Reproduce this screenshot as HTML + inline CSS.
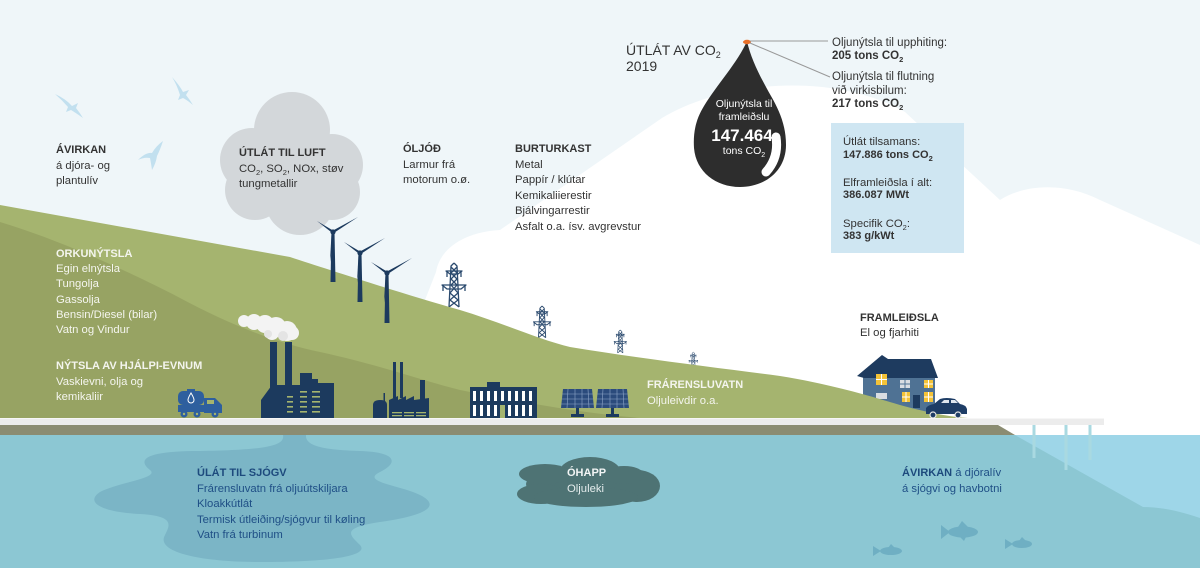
<!DOCTYPE html>
<html><head><meta charset="utf-8">
<style>
html,body{margin:0;padding:0;background:#eff6f9;}
svg{display:block;}
text{font-family:"Liberation Sans",sans-serif;}
.b{font-size:11.3px;}
.h{font-size:11px;font-weight:bold;}
.r{font-size:11.5px;}
.rb{font-size:11.5px;font-weight:bold;}
</style></head><body>
<svg width="1200" height="568" viewBox="0 0 1200 568" xmlns="http://www.w3.org/2000/svg">
<rect width="1200" height="568" fill="#eff6f9"/>

<!-- white mountain / clouds -->
<path d="M425,300 L436,272 C440,248 465,232 500,230 L662,118 C725,80 835,72 905,112 L1000,200 C1025,184 1065,182 1100,200 L1200,245 L1200,440 L425,440 Z" fill="#ffffff"/>

<!-- birds -->
<g fill="#c2e0ef">
<path d="M55,94 Q66,99 72,106 L78,103 L76,108 Q80,113 83,118 Q76,113 71,110 L66,112 L68,107 Q62,100 55,94 Z"/>
<path d="M172,77 Q180,86 183,92 L189,90 L186,95 Q190,100 193,105 Q187,100 183,98 L178,100 L180,95 Q177,85 172,77 Z"/>
<path d="M138,160 Q146,152 152,153 Q156,146 163,141 Q160,150 157,156 Q156,163 152,170 Q151,163 150,158 Q144,157 138,160 Z"/>
</g>

<!-- gray cloud -->
<g fill="#d3d7da">
<circle cx="292" cy="130" r="38"/>
<circle cx="252" cy="160" r="32"/>
<circle cx="332" cy="165" r="31"/>
<circle cx="255" cy="190" r="30"/>
<circle cx="300" cy="200" r="35"/>
<circle cx="332" cy="192" r="28"/>
<rect x="250" y="140" width="90" height="60"/>
</g>

<!-- pylons -->
<defs>
<g id="pyl" fill="none" stroke="#2b4a6e" stroke-width="1.3" stroke-linejoin="round">
<path d="M14,0 L11,3 L9,44 M14,0 L17,3 L19,44"/>
<path d="M6,8 L22,8 L18,11 L10,11 Z"/>
<path d="M2,22 L26,22 L21,26 L7,26 Z"/>
<path d="M11,4 L17,10 L11,16 L17,22 L10,30 L18,37 L9,44 M17,4 L11,10 L17,16 L11,22 L18,30 L10,37 L19,44"/>
<path d="M3,22 L3,28 M25,22 L25,28 M7,8 L7,14 M21,8 L21,14"/>
</g>
</defs>
<use href="#pyl" transform="translate(440,263)"/>
<use href="#pyl" transform="translate(532,306) scale(0.72)"/>
<use href="#pyl" transform="translate(613,330) scale(0.52)"/>
<use href="#pyl" transform="translate(688,352) scale(0.38)"/>

<!-- house (behind hill) -->
<g>
<rect x="863" y="376" width="72" height="38" fill="#4f7294"/>
<polygon points="857,376 882,355 888,359 931,359 938,378 864,378" fill="#1e3b5f"/>
<rect x="876" y="374" width="11" height="11" fill="#f4c338"/>
<path d="M881.5,374 V385 M876,379.5 H887" stroke="#fff" stroke-width="1"/>
<rect x="900" y="380" width="10" height="8" fill="#d9dde2"/>
<path d="M905,380 V388 M900,384 H910" stroke="#4f7294" stroke-width="1"/>
<rect x="924" y="380" width="9" height="8" fill="#f4c338"/>
<path d="M928.5,380 V388 M924,384 H933" stroke="#fff" stroke-width="1"/>
<rect x="902" y="392" width="8" height="10" fill="#f4c338"/>
<path d="M906,392 V402 M902,397 H910" stroke="#fff" stroke-width="1"/>
<rect x="913" y="395" width="7" height="13" fill="#1e3b5f"/>
<rect x="924" y="392" width="9" height="10" fill="#f4c338"/>
<path d="M928.5,392 V402 M924,397 H933" stroke="#fff" stroke-width="1"/>
<rect x="876" y="393" width="11" height="6" fill="#d9dde2"/>
</g>

<!-- green hills -->
<path d="M0,205 L290,257 C330,270 400,293 460,310 C500,322 540,340 570,347 C650,360 720,368 780,376 C830,384 870,396 900,405 C930,413 950,417 968,418 L0,418 Z" fill="#a5b46f"/>
<path d="M0,222 C60,240 130,272 180,298 C230,325 280,344 320,352 C380,365 420,380 460,390 C520,402 580,413 640,418 L0,418 Z" fill="#97a363"/>

<!-- turbines -->
<g fill="#1c3a5e">
<polygon points="331.5,232 334.5,232 335.5,282 330.5,282"/>
<polygon points="333,230.5 333,233.5 317,221"/>
<polygon points="333,230.5 333,233.5 358,217"/>
<polygon points="331.5,233 334.5,233 330,262"/>
<circle cx="333" cy="232" r="2.6"/>
<polygon points="358.5,253 361.5,253 362.5,302 357.5,302"/>
<polygon points="360,251.5 360,254.5 344,242"/>
<polygon points="360,251.5 360,254.5 385,238"/>
<polygon points="358.5,254 361.5,254 357,283"/>
<circle cx="360" cy="253" r="2.6"/>
<polygon points="385.5,273 388.5,273 389.5,323 384.5,323"/>
<polygon points="387,271.5 387,274.5 371,262"/>
<polygon points="387,271.5 387,274.5 412,258"/>
<polygon points="385.5,274 388.5,274 384,303"/>
<circle cx="387" cy="273" r="2.6"/>
</g>

<!-- smoke -->
<g fill="#f3f3f3">
<circle cx="244" cy="321" r="6"/>
<circle cx="254" cy="322" r="8"/>
<circle cx="265" cy="324" r="9"/>
<circle cx="276" cy="327" r="10"/>
<circle cx="287" cy="331" r="10"/>
<circle cx="292" cy="333" r="7"/>
<circle cx="272" cy="333" r="7"/>
</g>
<g fill="#e4e4e4"><circle cx="283" cy="336" r="5"/><circle cx="268" cy="334" r="4"/></g>

<!-- big factory -->
<g fill="#1c3a5e">
<rect x="270" y="342" width="7" height="46"/>
<rect x="285" y="342" width="7" height="46"/>
<path d="M261,418 L261,400 L272,385 L300,385 L300,373 L312,373 L312,379 L318,379 L318,383 L334,383 L334,418 Z"/>
</g>
<g fill="#a5b46f">
<rect x="300" y="391" width="7" height="1.6"/><rect x="312" y="391" width="8" height="1.6"/>
<rect x="287" y="396" width="6" height="1.6"/><rect x="300" y="396" width="7" height="1.6"/><rect x="312" y="396" width="8" height="1.6"/>
<rect x="287" y="401" width="6" height="1.6"/><rect x="300" y="401" width="7" height="1.6"/><rect x="312" y="401" width="8" height="1.6"/>
<rect x="287" y="406" width="6" height="1.6"/><rect x="300" y="406" width="7" height="1.6"/><rect x="312" y="406" width="8" height="1.6"/>
<rect x="287" y="411" width="6" height="1.6"/><rect x="300" y="411" width="7" height="1.6"/><rect x="312" y="411" width="8" height="1.6"/>
</g>

<!-- small factory -->
<g fill="#1c3a5e">
<path d="M373,418 L373,405 Q373,400 380,400 Q387,400 387,405 L387,418 Z"/>
<rect x="383.5" y="393" width="1.5" height="8"/>
<rect x="393" y="362" width="3" height="36"/>
<rect x="400" y="362" width="3" height="36"/>
<rect x="420" y="380" width="5" height="20"/>
<path d="M389,418 L389,400 L398,396 L398,400 L406,396 L406,400 L414,396 L414,400 L429,398 L429,418 Z"/>
</g>
<g fill="#a5b46f">
<rect x="392" y="412" width="10" height="1.3"/><rect x="404" y="412" width="10" height="1.3"/><rect x="416" y="412" width="10" height="1.3"/>
<rect x="392" y="415" width="10" height="1.3"/><rect x="404" y="415" width="10" height="1.3"/><rect x="416" y="415" width="10" height="1.3"/>
</g>

<!-- truck -->
<g fill="#2e5f9e">
<rect x="178" y="391" width="26" height="14" rx="5"/>
<rect x="187" y="389" width="8" height="3"/>
<path d="M204,398 L215,398 L222,405 L222,413 L204,413 Z"/>
<rect x="178" y="405" width="44" height="7"/>
<circle cx="184" cy="414" r="3.5"/><circle cx="197" cy="414" r="3.5"/><circle cx="215" cy="414" r="3.5"/>
</g>
<path d="M191,393 Q188,398 188,400 A3,3 0 0 0 194,400 Q194,398 191,393 Z" fill="none" stroke="#fff" stroke-width="1"/>
<rect x="207" y="400" width="7" height="4" fill="#a5b46f"/>
<g fill="#a5b46f"><circle cx="184" cy="414" r="1.2"/><circle cx="197" cy="414" r="1.2"/><circle cx="215" cy="414" r="1.2"/></g>

<!-- office building -->
<g fill="#1c3a5e">
<rect x="470" y="387" width="67" height="31"/>
<rect x="487" y="382" width="13" height="6"/>
</g>
<g fill="#ffffff">
<rect x="473" y="391" width="3" height="10"/><rect x="480" y="391" width="3" height="10"/><rect x="487" y="391" width="3" height="10"/><rect x="494" y="391" width="3" height="10"/><rect x="501" y="391" width="3" height="10"/><rect x="508" y="391" width="3" height="10"/><rect x="515" y="391" width="3" height="10"/><rect x="522" y="391" width="3" height="10"/><rect x="529" y="391" width="3" height="10"/>
<rect x="473" y="405" width="3" height="11"/><rect x="480" y="405" width="3" height="11"/><rect x="487" y="405" width="3" height="11"/><rect x="494" y="405" width="3" height="11"/><rect x="508" y="405" width="3" height="11"/><rect x="515" y="405" width="3" height="11"/><rect x="522" y="405" width="3" height="11"/><rect x="529" y="405" width="3" height="11"/>
</g>
<rect x="500" y="405" width="5" height="13" fill="#a5b46f"/>

<!-- solar panels -->
<g>
<polygon points="563,389 592,389 594,408 561,408" fill="#2b4b7c"/>
<path d="M568,389 L567,408 M575,389 L575,408 M582,389 L582,408 M588,389 L589,408 M562,394 H593 M562,399 H593 M561,404 H594" stroke="#8ea6c8" stroke-width="0.6"/>
<rect x="576" y="408" width="3" height="7" fill="#1c3a5e"/><rect x="571" y="414" width="13" height="3" fill="#1c3a5e"/>
<polygon points="598,389 627,389 629,408 596,408" fill="#2b4b7c"/>
<path d="M603,389 L602,408 M610,389 L610,408 M617,389 L617,408 M623,389 L624,408 M597,394 H628 M597,399 H628 M596,404 H629" stroke="#8ea6c8" stroke-width="0.6"/>
<rect x="611" y="408" width="3" height="7" fill="#1c3a5e"/><rect x="606" y="414" width="13" height="3" fill="#1c3a5e"/>
</g>

<!-- car -->
<path d="M926,414 L926,408 Q928,405 934,404 L940,399 Q946,397 955,399 L960,404 Q966,405 967,409 L967,414 Z" fill="#1e3d66"/>
<path d="M941,403 L944,400 L949,400 L949,403 Z M951,400 L955,400 L958,403 L951,403 Z" fill="#dfe6ee"/>
<circle cx="933" cy="415" r="3" fill="#1e3d66" stroke="#e5e5e5" stroke-width="1.2"/>
<circle cx="958" cy="415" r="3" fill="#1e3d66" stroke="#e5e5e5" stroke-width="1.2"/>

<!-- sea -->
<rect x="0" y="435" width="1200" height="133" fill="#8cc7d3"/>
<path d="M1015,435 L1200,435 L1200,518 C1180,511 1160,507 1143,507 Z" fill="#9ed6e8"/>
<g stroke="#a9d9e1" stroke-width="3">
<line x1="1034" y1="425" x2="1034" y2="458"/>
<line x1="1066" y1="425" x2="1066" y2="470"/>
<line x1="1090" y1="425" x2="1090" y2="460"/>
</g>

<!-- road & ground -->
<rect x="0" y="418" width="1104" height="7" fill="#ececec"/>
<rect x="0" y="418" width="1104" height="1" fill="#f6f6f6"/>
<polygon points="0,425 998,425 1015,435 0,435" fill="#8b8c72"/>

<!-- puddle -->
<path d="M283,435 C285,445 270,450 200,451 C150,451 135,458 150,470 C160,478 120,482 100,492 C85,502 100,512 140,514 C175,516 170,525 165,535 C155,552 200,562 260,562 C330,562 370,556 360,545 C350,535 340,528 380,522 C430,515 440,505 420,495 C400,485 360,482 380,472 C400,462 395,452 360,451 C320,450 305,445 306,435 Z" fill="#7bb5c6"/>

<!-- OHAPP cloud -->
<g fill="#4e7374">
<ellipse cx="588" cy="484" rx="62" ry="18"/>
<ellipse cx="590" cy="471" rx="30" ry="14"/>
<ellipse cx="545" cy="474" rx="26" ry="10"/>
<ellipse cx="541" cy="494" rx="24" ry="10"/>
<ellipse cx="637" cy="486" rx="23" ry="16"/>
<ellipse cx="624" cy="475" rx="20" ry="9"/>
<ellipse cx="586" cy="497" rx="52" ry="10"/>
</g>

<!-- fish -->
<g fill="#6fafc3">
<ellipse cx="963" cy="532" rx="15" ry="5.5"/>
<polygon points="941,525 950,532 941,539"/>
<polygon points="958,527 962,521 968,527"/>
<polygon points="960,537 964,541 966,537"/>
<ellipse cx="891" cy="551" rx="11" ry="4"/>
<polygon points="873,546 881,551 873,556"/>
<polygon points="888,548 891,544 895,548"/>
<ellipse cx="1022" cy="544" rx="10" ry="4"/>
<polygon points="1005,539 1013,544 1005,549"/>
<polygon points="1019,541 1022,537 1026,541"/>
</g>

<!-- drop -->
<path d="M747,41 C738,62 716,86 704,106 C696,119 693,132 694,148 C696,172 716,187 740,187 C766,187 786,170 786,145 C786,125 779,110 771,96 C762,80 751,60 747,41 Z" fill="#2d2d2d"/>
<path d="M776,137 C778,150 775,162 766,172" fill="none" stroke="#ffffff" stroke-width="9" stroke-linecap="round"/>
<ellipse cx="747" cy="42" rx="4" ry="2.2" fill="#e8702a"/>
<line x1="750" y1="41" x2="828" y2="41" stroke="#999" stroke-width="1"/>
<line x1="750" y1="43" x2="830" y2="77" stroke="#999" stroke-width="1"/>

<!-- info box -->
<rect x="831" y="123" width="133" height="130" fill="#cfe6f2"/>

<!-- TEXTS: sky -->
<g fill="#333">
<text x="56" y="153" class="h">ÁVIRKAN</text>
<text x="56" y="169" class="b">á djóra- og</text>
<text x="56" y="184" class="b">plantulív</text>

<text x="239" y="156" class="h">ÚTLÁT TIL LUFT</text>
<text x="239" y="172" class="b">CO<tspan font-size="7.5" dy="3">2</tspan><tspan dy="-3">, SO</tspan><tspan font-size="7.5" dy="3">2</tspan><tspan dy="-3">, NOx, støv</tspan></text>
<text x="239" y="187" class="b">tungmetallir</text>

<text x="403" y="152" class="h">ÓLJÓÐ</text>
<text x="403" y="168" class="b">Larmur frá</text>
<text x="403" y="183" class="b">motorum o.ø.</text>

<text x="515" y="152" class="h">BURTURKAST</text>
<text x="515" y="168" class="b">Metal</text>
<text x="515" y="183" class="b">Pappír / klútar</text>
<text x="515" y="199" class="b">Kemikaliierestir</text>
<text x="515" y="214" class="b">Bjálvingarrestir</text>
<text x="515" y="230" class="b">Asfalt o.a. ísv. avgrevstur</text>

<text x="626" y="55" font-size="14">ÚTLÁT AV CO<tspan font-size="9" dy="3">2</tspan></text>
<text x="626" y="71" font-size="14">2019</text>

<text x="832" y="46" class="r">Oljunýtsla til upphiting:</text>
<text x="832" y="59" class="rb">205 tons CO<tspan font-size="7.5" dy="3">2</tspan></text>
<text x="832" y="80" class="r">Oljunýtsla til flutning</text>
<text x="832" y="94" class="r">við virkisbilum:</text>
<text x="832" y="107" class="rb">217 tons CO<tspan font-size="7.5" dy="3">2</tspan></text>

<text x="843" y="145" class="b">Útlát tilsamans:</text>
<text x="843" y="158" class="h">147.886 tons CO<tspan font-size="7.5" dy="3">2</tspan></text>
<text x="843" y="186" class="b">Elframleiðsla í alt:</text>
<text x="843" y="198" class="h">386.087 MWt</text>
<text x="843" y="227" class="b">Specifik CO<tspan font-size="7.5" dy="3">2</tspan><tspan dy="-3">:</tspan></text>
<text x="843" y="239" class="h">383 g/kWt</text>

<text x="860" y="321" class="h">FRAMLEIÐSLA</text>
<text x="860" y="336" class="b">El og  fjarhiti</text>
</g>

<!-- drop texts -->
<g fill="#ffffff" text-anchor="middle">
<text x="744" y="107" font-size="10.5">Oljunýtsla til</text>
<text x="744" y="120" font-size="10.5">framleiðslu</text>
<text x="742" y="141" font-size="17" font-weight="bold">147.464</text>
<text x="744" y="154" font-size="10.5">tons CO<tspan font-size="7" dy="3">2</tspan></text>
</g>

<!-- green texts -->
<g fill="#f4f5ee">
<text x="56" y="257" class="h">ORKUNÝTSLA</text>
<text x="56" y="272" class="b">Egin elnýtsla</text>
<text x="56" y="287" class="b">Tungolja</text>
<text x="56" y="303" class="b">Gassolja</text>
<text x="56" y="318" class="b">Bensin/Diesel (bilar)</text>
<text x="56" y="333" class="b">Vatn og Vindur</text>
<text x="56" y="369" class="h">NÝTSLA AV HJÁLPI-EVNUM</text>
<text x="56" y="385" class="b">Vaskievni, olja og</text>
<text x="56" y="400" class="b">kemikaliir</text>

<text x="647" y="388" class="h">FRÁRENSLUVATN</text>
<text x="647" y="404" class="b">Oljuleivdir o.a.</text>
</g>

<!-- sea texts -->
<g fill="#1f4f86">
<text x="197" y="476" class="h" fill="#1d4a7d">ÚLÁT TIL SJÓGV</text>
<text x="197" y="492" class="b">Frárensluvatn frá oljuútskiljara</text>
<text x="197" y="507" class="b">Kloakkútlát</text>
<text x="197" y="523" class="b">Termisk útleiðing/sjógvur til køling</text>
<text x="197" y="538" class="b">Vatn frá turbinum</text>

<text x="902" y="476"><tspan class="h" fill="#1d4a7d">ÁVIRKAN</tspan><tspan class="b"> á djóralív</tspan></text>
<text x="902" y="492" class="b">á sjógvi og havbotni</text>
</g>
<text x="567" y="476" class="h" fill="#f2f5f5">ÓHAPP</text>
<text x="567" y="492" class="b" fill="#e4ecec">Oljuleki</text>
</svg>
</body></html>
